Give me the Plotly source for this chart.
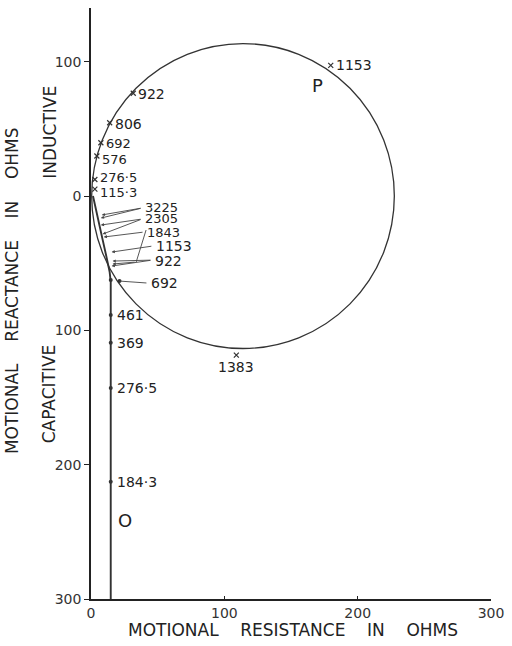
import plotly.graph_objects as go

# ---------------- data ----------------
circle_center_R = 114.0      # ohms
circle_center_X = 0.0
circle_radius = 113.5

# calculated points on circle (inductive side), marked with x
upper_labels = ["922", "806", "692", "576", "276·5", "115·3"]
upper_R = [31.7, 14.0, 7.4, 4.4, 2.9, 2.9]
upper_X = [76.5, 54.6, 39.7, 29.8, 12.3, 5.2]

# far points on circle
far_labels = ["1153", "1383"]
far_R = [179.8, 109.0]
far_X = [97.3, -118.4]

# measured locus (curve joining the straight line)
locus_R = [1.5, 3.7, 5.9, 8.8, 11.8, 14.0, 14.8, 14.8]
locus_X = [0.0, -10.4, -21.6, -32.8, -46.2, -56.6, -64.0, -300.0]

# measured points on straight line
line_R_value = 14.8
lower_labels = ["692", "461", "369", "276·5", "184·3"]
lower_X = [-62.5, -88.6, -109.2, -143.0, -212.7]
lower_show_label = [False, True, True, True, True]

# cluster of points, labelled with arrows
cluster_labels = ["3225", "2305", "1843", "1153", "922", "692"]
cluster_targets = [
    [(8.1, -14.1), (7.4, -16.4)],
    [(7.4, -21.6), (8.8, -28.3)],
    [(9.6, -30.5)],
    [(15.5, -41.7)],
    [(16.2, -48.4), (15.5, -52.1)],
    [(21.4, -63.3)],
]

x_ticks = [0, 100, 200, 300]
y_ticks = [100, 0, -100, -200, -300]
y_ticktext = ["100", "0", "100", "200", "300"]

# ---------------- styling / layout ----------------
FONT = "DejaVu Sans"
INK = "#222222"
LINE = "#333333"
LBL = 14
SMALL = 13

upper_label_yshift = [-1, -1, -1, -3, 2, -3]
cluster_label_pos = [(39.8, -8.2), (39.8, -16.4), (41.3, -26.8),
                     (47.9, -37.2), (47.2, -48.0), (44.2, -64.8)]
cluster_tail_pos = [(38.3, -8.9), (38.3, -17.1), (39.8, -26.8),
                    (46.4, -37.2), (45.7, -47.7), (42.7, -64.8)]

fig = go.Figure()

# circle
fig.add_shape(type="circle", xref="x", yref="y",
              x0=circle_center_R - circle_radius, x1=circle_center_R + circle_radius,
              y0=circle_center_X - circle_radius, y1=circle_center_X + circle_radius,
              line=dict(color=LINE, width=1.3))

# locus
fig.add_trace(go.Scatter(x=locus_R, y=locus_X, mode="lines",
                         line=dict(color=LINE, width=1.9), hoverinfo="skip",
                         cliponaxis=False))

# calculated points on circle
fig.add_trace(go.Scatter(x=upper_R + far_R, y=upper_X + far_X, mode="markers",
                         marker=dict(symbol="x-thin", size=5, color=LINE,
                                     line=dict(width=1.2, color=LINE))))
fig.add_trace(go.Scatter(x=[c[0][0] for c in cluster_targets[-1:]],
                         y=[c[0][1] for c in cluster_targets[-1:]], mode="markers",
                         marker=dict(symbol="circle", size=4, color=LINE)))

# measured points on straight line
fig.add_trace(go.Scatter(x=[line_R_value] * len(lower_X), y=lower_X, mode="markers",
                         marker=dict(symbol="circle", size=4, color=LINE)))

ann = []
for lab, r, x, ys in zip(upper_labels, upper_R, upper_X, upper_label_yshift):
    ann.append(dict(x=r, y=x, text=lab, showarrow=False, xanchor="left",
                    yanchor="middle", xshift=4, yshift=ys, borderpad=0,
                    font=dict(size=SMALL + 1 if lab in ("922", "806") else SMALL,
                              color=INK)))
for lab, x, show in zip(lower_labels, lower_X, lower_show_label):
    if show:
        ann.append(dict(x=line_R_value, y=x, text=lab, showarrow=False, xanchor="left",
                        yanchor="middle", xshift=4, font=dict(size=LBL, color=INK)))
# 1153 top right
ann.append(dict(x=far_R[0], y=far_X[0], text=far_labels[0], showarrow=False,
                xanchor="left", yanchor="middle", xshift=3, font=dict(size=LBL, color=INK)))
# 1383 below
ann.append(dict(x=far_R[1], y=far_X[1], text=far_labels[1], showarrow=False,
                xanchor="center", yanchor="top", yshift=-2, font=dict(size=LBL, color=INK)))
# P and O
ann.append(dict(x=169.5, y=82.6, text="P", showarrow=False,
                font=dict(size=18, color=INK)))
ann.append(dict(x=25.8, y=-241.3, text="O", showarrow=False,
                font=dict(size=18, color=INK)))

# cluster labels and arrows
for lab, pos, tail, targets in zip(cluster_labels, cluster_label_pos,
                                   cluster_tail_pos, cluster_targets):
    ann.append(dict(x=pos[0], y=pos[1], text=lab, showarrow=False, xanchor="left",
                    yanchor="middle", borderpad=0,
                    font=dict(size=SMALL if lab in ("3225", "2305", "1843") else LBL,
                              color=INK)))
    for (tr, tx) in targets:
        ann.append(dict(x=tr, y=tx, ax=tail[0], ay=tail[1], axref="x", ayref="y",
                        xref="x", yref="y", text="", showarrow=True,
                        arrowhead=0 if lab == "692" else 2, arrowsize=0.7,
                        arrowwidth=0.9, arrowcolor="#444444"))

# 1843 second leader (bent line down then arrow)
fig.add_trace(go.Scatter(x=[41.3, 33.9], y=[-25.3, -49.1], mode="lines",
                         line=dict(color="#444444", width=0.9), hoverinfo="skip"))
ann.append(dict(x=16.2, y=-50.6, ax=33.9, ay=-49.1, axref="x", ayref="y",
                xref="x", yref="y", text="", showarrow=True, arrowhead=2,
                arrowsize=0.7, arrowwidth=0.9, arrowcolor="#444444"))

# axis titles
GAP = "    "
ann.append(dict(xref="paper", yref="paper", x=0.505, y=-0.053,
                text=GAP.join(["MOTIONAL", "RESISTANCE", "IN", "OHMS"]), showarrow=False,
                xanchor="center", yanchor="middle", font=dict(size=17, color=INK)))
ann.append(dict(xref="paper", yref="paper", x=-0.196, y=0.522,
                text=GAP.join(["MOTIONAL", "REACTANCE", "IN", "OHMS"]), showarrow=False,
                textangle=-90, xanchor="center", yanchor="middle",
                font=dict(size=17, color=INK)))
ann.append(dict(xref="paper", yref="paper", x=-0.101, y=0.790,
                text="INDUCTIVE", showarrow=False, textangle=-90,
                xanchor="center", yanchor="middle", font=dict(size=17, color=INK)))
ann.append(dict(xref="paper", yref="paper", x=-0.104, y=0.347,
                text="CAPACITIVE", showarrow=False, textangle=-90,
                xanchor="center", yanchor="middle", font=dict(size=17, color=INK)))

fig.update_layout(
    width=512, height=646,
    margin=dict(l=91, r=14, t=8, b=47),
    paper_bgcolor="white", plot_bgcolor="white",
    showlegend=False,
    font=dict(family=FONT, color=INK, size=14),
    annotations=ann,
    xaxis=dict(range=[0, 300], tickvals=x_ticks, ticks="inside", ticklen=3,
               tickcolor=INK, showline=True, linecolor=INK, linewidth=1.5,
               showgrid=False, zeroline=False, tickfont=dict(size=14, color="#333333")),
    yaxis=dict(range=[-300, 140], tickvals=y_ticks, ticktext=y_ticktext,
               ticks="outside", ticklen=5, tickcolor=INK, showline=True,
               linecolor=INK, linewidth=1.5, showgrid=False, zeroline=False,
               tickfont=dict(size=14, color="#333333")),
)

fig.write_html("out.html", config={"displayModeBar": False},
               post_script="document.body.style.margin='0';document.body.style.overflow='hidden';")
